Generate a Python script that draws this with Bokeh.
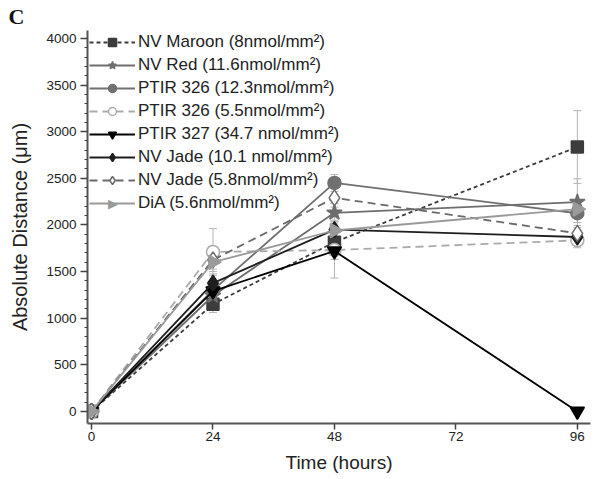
from bokeh.plotting import figure
from bokeh.models import Whisker, ColumnDataSource, TeeHead, FixedTicker, Legend, Label
from bokeh.embed import file_html
from bokeh.resources import INLINE

hours = [0, 24, 48, 96]
series_names = [
    "NV Maroon (8nmol/mm²)",
    "NV Red (11.6nmol/mm²)",
    "PTIR 326 (12.3nmol/mm²)",
    "PTIR 326 (5.5nmol/mm²)",
    "PTIR 327 (34.7 nmol/mm²)",
    "NV Jade (10.1 nmol/mm²)",
    "NV Jade (5.8nmol/mm²)",
    "DiA (5.6nmol/mm²)",
]
nv_maroon = [0, 1150, 1815, 2835]
nv_red = [0, 1240, 2130, 2245]
ptir326_high = [0, 1300, 2450, 2125]
ptir326_low = [0, 1710, 1730, 1835]
ptir327 = [0, 1290, 1720, 0]
nv_jade_high = [0, 1375, 1950, 1870]
nv_jade_low = [0, 1625, 2290, 1910]
dia = [0, 1600, 1940, 2170]

err_maroon = [0, 90, 100, 390]
err_red = [0, 100, 100, 250]
err_p326h = [0, 100, 90, 100]
err_p326l = [0, 250, 100, 80]
err_p327 = [0, 100, 290, 0]
err_jadeh = [0, 100, 100, 60]
err_jadel = [0, 100, 100, 60]
err_dia = [0, 100, 100, 80]

values = [nv_maroon, nv_red, ptir326_high, ptir326_low, ptir327, nv_jade_high, nv_jade_low, dia]
errors = [err_maroon, err_red, err_p326h, err_p326l, err_p327, err_jadeh, err_jadel, err_dia]
styles = [
    dict(color="#3c3c3c", dash="4 3", marker="square", fill="#3c3c3c", size=12, rot=0.0),
    dict(color="#6e6e6e", dash="solid", marker="star", fill="#6e6e6e", size=16, rot=0.0),
    dict(color="#707070", dash="solid", marker="circle", fill="#707070", size=13, rot=0.0),
    dict(color="#ababab", dash="8 5", marker="circle", fill="white", size=13, rot=0.0),
    dict(color="#000000", dash="solid", marker="inverted_triangle", fill="#000000", size=14, rot=0.0),
    dict(color="#1e1e1e", dash="solid", marker="diamond", fill="#1e1e1e", size=16, rot=0.0),
    dict(color="#6a6a6a", dash="8 5", marker="diamond", fill="white", size=16, rot=0.0),
    dict(color="#9a9a9a", dash="solid", marker="triangle", fill="#9a9a9a", size=14, rot=-1.5708),
]

p = figure(width=610, height=477, output_backend="svg", toolbar_location=None,
           x_range=(-0.8, 98.6), y_range=(-130, 4085),
           min_border_left=87, min_border_right=20, min_border_top=30, min_border_bottom=54,
           title="C")
p.title.text_font = "Liberation Serif"
p.title.text_font_size = "22px"
p.title.text_font_style = "bold"
p.title.text_color = "#111111"
p.title.offset = -79
p.title.standoff = 0
p.title.vertical_align = "top"
p.outline_line_color = None
p.grid.visible = False
p.background_fill_color = "white"

font = "Liberation Sans"
p.xaxis.ticker = FixedTicker(ticks=[0, 24, 48, 72, 96])
p.yaxis.ticker = FixedTicker(ticks=list(range(0, 4001, 500)),
                             minor_ticks=list(range(0, 4001, 100)))
for ax in (p.xaxis[0], p.yaxis[0]):
    ax.axis_line_color = "#555555"
    ax.axis_line_width = 2
    ax.major_tick_line_color = "#444444"
    ax.major_tick_line_width = 1.5
    ax.minor_tick_line_color = "#444444"
    ax.major_label_text_font = font
    ax.major_label_text_font_size = "13.5px"
    ax.major_label_text_color = "#222222"
    ax.axis_label_text_font = font
    ax.axis_label_text_font_style = "normal"
    ax.axis_label_text_color = "#222222"
p.xaxis.axis_label_text_font_size = "19px"
p.yaxis.axis_label_text_font_size = "20px"
p.xaxis.major_tick_out = 6
p.xaxis.major_tick_in = 0
p.xaxis.minor_tick_out = 0
p.xaxis.minor_tick_in = 0
p.yaxis.major_tick_out = 7
p.yaxis.major_tick_in = 0
p.yaxis.minor_tick_out = 3
p.yaxis.minor_tick_in = 0
p.xaxis.axis_label = "Time (hours)"
p.yaxis.axis_label = "Absolute Distance (μm)"
p.xaxis.major_label_standoff = 2
p.xaxis.axis_label_standoff = 8
p.yaxis.major_label_standoff = 4
p.yaxis.axis_label_standoff = 12

for name, ys, es, st in zip(series_names, values, errors, styles):
    up = [y + e for y, e in zip(ys, es)]
    lo = [y - e for y, e in zip(ys, es)]
    src = ColumnDataSource(dict(x=hours, y=ys, up=up, lo=lo))
    w = Whisker(source=src, base="x", upper="up", lower="lo", line_color="#b5b5b5", line_width=1,
                upper_head=TeeHead(size=8, line_color="#b5b5b5"),
                lower_head=TeeHead(size=8, line_color="#b5b5b5"))
    p.add_layout(w)

items = []
for name, ys, es, st in zip(series_names, values, errors, styles):
    src = ColumnDataSource(dict(x=hours, y=ys, ang=[st["rot"]] * len(hours)))
    ln = p.line("x", "y", source=src, line_color=st["color"], line_width=1.8, line_dash=st["dash"])
    mk = p.scatter("x", "y", source=src, marker=st["marker"], size=st["size"],
                   fill_color=st["fill"], line_color=st["color"], line_width=1.5,
                   angle="ang")
    if st["rot"] != 0.0:
        # legend cannot rotate markers: show the line in the legend and draw the
        # right-pointing triangle symbol as text on top of the legend glyph
        items.append((name, [ln]))
    else:
        items.append((name, [ln, mk]))

legend = Legend(items=items, location=(2, 210))
legend.border_line_alpha = 0
legend.background_fill_alpha = 0
legend.label_text_font = font
legend.label_text_font_size = "17px"
legend.label_text_color = "#222222"
legend.glyph_width = 46
legend.glyph_height = 20
legend.label_height = 20
legend.spacing = 3
legend.padding = 0
legend.margin = 0
legend.label_standoff = 3
p.add_layout(legend)

p.add_layout(Label(x=112, y=203, x_units="canvas", y_units="canvas", text="▶",
                   text_font=font, text_font_size="13px", text_color="#9a9a9a",
                   text_align="center", text_baseline="middle"))

open("out.html", "w").write(file_html(p, INLINE))
